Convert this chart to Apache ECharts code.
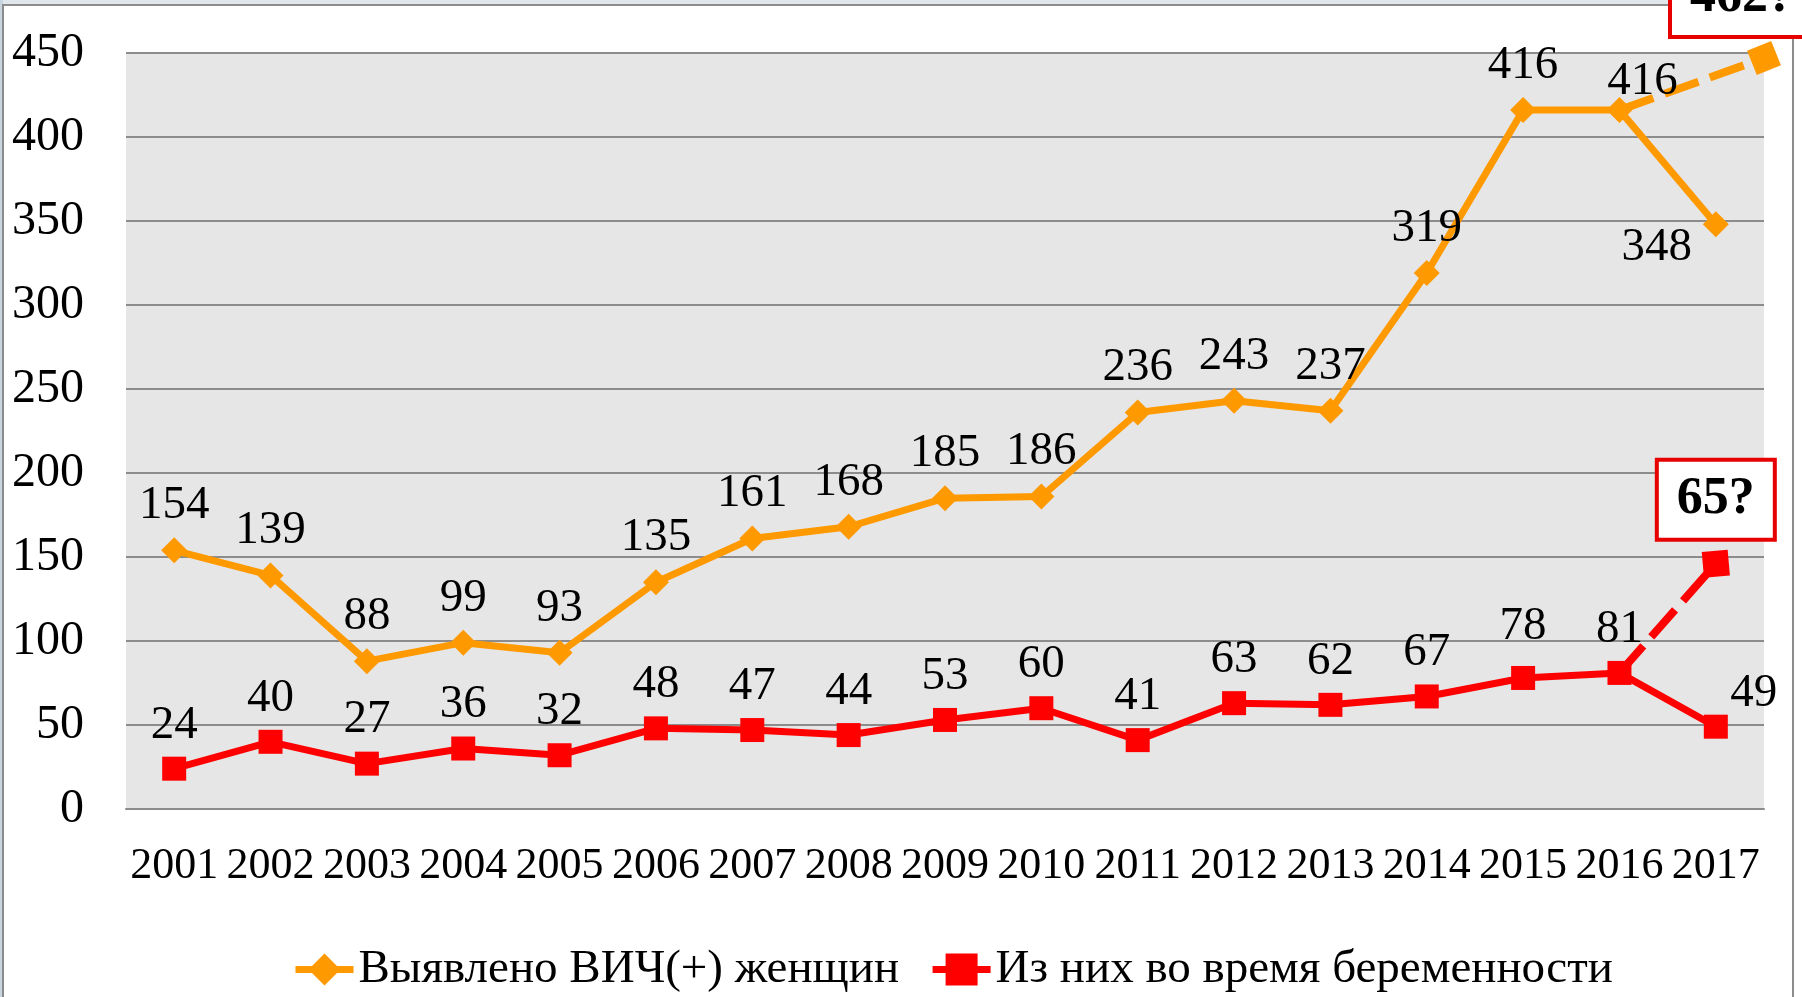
<!DOCTYPE html>
<html>
<head>
<meta charset="utf-8">
<script src="https://cdn.jsdelivr.net/npm/echarts@6/dist/echarts.min.js"></script>
<style>
html,body{margin:0;padding:0;background:#fff;}
#c{width:1802px;height:997px;}
</style>
</head>
<body>
<div id="c"></div>
<script>
var years = ['2001','2002','2003','2004','2005','2006','2007','2008','2009','2010','2011','2012','2013','2014','2015','2016','2017'];
var womenHIV = [154,139,88,99,93,135,161,168,185,186,236,243,237,319,416,416,348];
var pregnant = [24,40,27,36,32,48,47,44,53,60,41,63,62,67,78,81,49];
// dashed "forecast" extensions (plotted positions) and their boxed labels
var womenForecastX = [15.5, 17];
var womenForecastY = [416, 447];
var pregForecast = [81, 146];
var boxLabels = ['462?', '65?'];
var seriesNames = ['Выявлено ВИЧ(+) женщин', 'Из них во время беременности'];
var yTicks = {min: 0, max: 450, interval: 50};

var FONT = "'Liberation Serif','Times New Roman',serif";
var ORANGE = '#ff9900', RED = '#ff0000';

var chart = echarts.init(document.getElementById('c'), null, {renderer: 'canvas'});

// special label placements
var orangeLabelTweaks = {15: {offset: [23, 16]}, 16: {offset: [-59, 68]}};
var redLabelTweaks = {14: {offset: [0, -8]}, 16: {offset: [38, 10]}};

var orangeData = womenHIV.map(function (v, i) {
  var d = {value: v};
  if (orangeLabelTweaks[i]) d.label = orangeLabelTweaks[i];
  return d;
});
var redData = pregnant.map(function (v, i) {
  var d = {value: v};
  if (redLabelTweaks[i]) d.label = redLabelTweaks[i];
  return d;
});

var orangeDash = womenForecastX.map(function (x, i) {
  var d = {value: [x, womenForecastY[i]]};
  if (i === 0) { d.symbol = 'none'; d.label = {show: false}; }
  else { d.symbol = 'rect'; d.symbolSize = 26; d.symbolRotate = 22; }
  return d;
});
var redDash = years.map(function (y, i) {
  var idx = i - (years.length - pregForecast.length);
  if (idx < 0) return null;
  var d = {value: pregForecast[idx]};
  if (idx === 0) { d.symbol = 'none'; d.label = {show: false}; }
  return d;
});

var boxLabelStyle = {
  show: true,
  position: 'top',
  fontFamily: FONT,
  fontSize: 52,
  fontWeight: 'bold',
  lineHeight: 52,
  color: '#000',
  backgroundColor: '#fff',
  borderColor: '#e60000',
  borderWidth: 4,
  padding: [12, 18, 12, 18]
};

var option = {
  backgroundColor: '#ffffff',
  animation: false,
  graphic: [
    {type: 'rect', z: -10, silent: true, shape: {x: 0, y: 0, width: 1802, height: 6}, style: {fill: '#dfe6ec'}},
    {type: 'rect', z: -10, silent: true, shape: {x: 0, y: 0, width: 3, height: 997}, style: {fill: '#c9d6df'}},
    {type: 'rect', z: -9, silent: true, shape: {x: 3, y: 5, width: 1790, height: 1000}, style: {fill: 'none', stroke: '#8c8c8c', lineWidth: 2}}
  ],
  grid: {
    left: 126, right: 38, top: 53, bottom: 188,
    show: true, backgroundColor: '#e6e6e6', borderWidth: 0
  },
  legend: {
    left: 287, top: 941,
    itemWidth: 58, itemHeight: 40, itemGap: 30,
    lineStyle: {width: 7},
    textStyle: {fontFamily: FONT, fontSize: 47, color: '#000'},
    data: seriesNames
  },
  xAxis: [
    {
      type: 'category', data: years, boundaryGap: true,
      axisLine: {show: true, lineStyle: {color: '#8c8c8c', width: 2}},
      axisTick: {show: false},
      axisLabel: {fontFamily: FONT, fontSize: 44, color: '#000', margin: 35, interval: 0}
    },
    {
      type: 'value', min: 0, max: years.length, show: false
    }
  ],
  yAxis: {
    type: 'value', min: yTicks.min, max: yTicks.max, interval: yTicks.interval,
    axisLine: {show: false}, axisTick: {show: false},
    splitLine: {show: true, lineStyle: {color: '#8c8c8c', width: 2}},
    axisLabel: {fontFamily: FONT, fontSize: 48, color: '#000', margin: 42}
  },
  series: [
    {
      name: 'orangeForecast', type: 'line', xAxisIndex: 1, data: orangeDash,
      lineStyle: {color: ORANGE, width: 8, type: [36, 12]},
      itemStyle: {color: ORANGE},
      label: Object.assign({}, boxLabelStyle, {distance: 6, offset: [-22, 0], formatter: function () { return boxLabels[0]; }}),
      z: 2
    },
    {
      name: 'redForecast', type: 'line', data: redDash,
      lineStyle: {color: RED, width: 8, type: [36, 12]},
      itemStyle: {color: RED},
      symbol: 'rect', symbolSize: 26, symbolRotate: 5,
      label: Object.assign({}, boxLabelStyle, {distance: 12, formatter: function () { return boxLabels[1]; }}),
      z: 2
    },
    {
      name: seriesNames[0], type: 'line', data: orangeData,
      lineStyle: {color: ORANGE, width: 7},
      itemStyle: {color: ORANGE},
      symbol: 'diamond', symbolSize: 26,
      label: {show: true, position: 'top', distance: 8, fontFamily: FONT, fontSize: 47, color: '#000'},
      z: 3
    },
    {
      name: seriesNames[1], type: 'line', data: redData,
      lineStyle: {color: RED, width: 7},
      itemStyle: {color: RED},
      symbol: 'rect', symbolSize: 24,
      label: {show: true, position: 'top', distance: 8, fontFamily: FONT, fontSize: 47, color: '#000'},
      z: 3
    }
  ]
};
chart.setOption(option);
</script>
</body>
</html>
